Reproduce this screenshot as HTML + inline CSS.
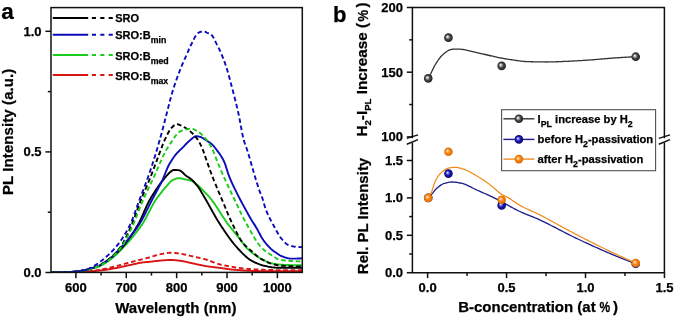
<!DOCTYPE html>
<html><head><meta charset="utf-8"><style>
html,body{margin:0;padding:0;background:#fff;}
body{width:675px;height:318px;overflow:hidden;}
svg{display:block;filter:blur(0.3px);}
</style></head><body>
<svg width="675" height="318" viewBox="0 0 675 318">
<rect width="675" height="318" fill="#fff"/>
<defs><clipPath id="ca"><rect x="51.0" y="7.6" width="251.3" height="264.79999999999995"/></clipPath><radialGradient id="gg" cx="0.5" cy="0.5" r="0.55" fx="0.36" fy="0.38"><stop offset="0" stop-color="#ffffff"/><stop offset="0.18" stop-color="#c8c8c8"/><stop offset="0.5" stop-color="#4a4a4a"/><stop offset="1" stop-color="#151515"/></radialGradient><radialGradient id="gb" cx="0.5" cy="0.5" r="0.55" fx="0.36" fy="0.38"><stop offset="0" stop-color="#f0f0ff"/><stop offset="0.18" stop-color="#9090f0"/><stop offset="0.5" stop-color="#1616aa"/><stop offset="1" stop-color="#08086c"/></radialGradient><radialGradient id="go" cx="0.5" cy="0.5" r="0.55" fx="0.36" fy="0.38"><stop offset="0" stop-color="#fff8ec"/><stop offset="0.18" stop-color="#ffc480"/><stop offset="0.5" stop-color="#f5820e"/><stop offset="1" stop-color="#dc6800"/></radialGradient></defs>
<g clip-path="url(#ca)" fill="none" stroke-width="1.9" stroke-linejoin="round">
<path d="M50.72 272.5 L51.35 272.5 L51.98 272.5 L52.61 272.49 L53.24 272.49 L53.87 272.49 L54.5 272.48 L55.13 272.48 L55.76 272.47 L56.4 272.46 L57.03 272.45 L57.66 272.45 L58.29 272.44 L58.92 272.43 L59.55 272.42 L60.18 272.41 L60.81 272.39 L61.45 272.38 L62.08 272.37 L62.71 272.36 L63.34 272.34 L63.97 272.33 L64.6 272.32 L65.23 272.3 L65.86 272.29 L66.5 272.27 L67.13 272.26 L67.76 272.24 L68.39 272.22 L69.02 272.21 L69.65 272.19 L70.28 272.17 L70.91 272.16 L71.54 272.14 L72.18 272.12 L72.81 272.1 L73.44 272.09 L74.07 272.07 L74.7 272.05 L75.33 272.03 L75.96 272.02 L76.59 272 L77.23 271.98 L77.86 271.96 L78.49 271.93 L79.12 271.91 L79.75 271.89 L80.38 271.86 L81.01 271.84 L81.64 271.81 L82.28 271.78 L82.91 271.75 L83.54 271.72 L84.17 271.69 L84.8 271.66 L85.43 271.62 L86.06 271.59 L86.69 271.56 L87.32 271.52 L87.96 271.48 L88.59 271.45 L89.22 271.41 L89.85 271.37 L90.48 271.33 L91.11 271.29 L91.74 271.24 L92.37 271.2 L93.01 271.15 L93.64 271.1 L94.27 271.05 L94.9 270.99 L95.53 270.94 L96.16 270.88 L96.79 270.81 L97.42 270.75 L98.06 270.69 L98.69 270.62 L99.32 270.55 L99.95 270.48 L100.58 270.41 L101.21 270.34 L101.84 270.26 L102.47 270.19 L103.1 270.11 L103.74 270.03 L104.37 269.95 L105 269.87 L105.63 269.78 L106.26 269.69 L106.89 269.6 L107.52 269.51 L108.15 269.41 L108.79 269.31 L109.42 269.21 L110.05 269.1 L110.68 269 L111.31 268.89 L111.94 268.78 L112.57 268.67 L113.2 268.56 L113.84 268.44 L114.47 268.33 L115.1 268.21 L115.73 268.1 L116.36 267.98 L116.99 267.86 L117.62 267.74 L118.25 267.62 L118.88 267.49 L119.52 267.36 L120.15 267.22 L120.78 267.08 L121.41 266.94 L122.04 266.8 L122.67 266.66 L123.3 266.52 L123.93 266.37 L124.57 266.23 L125.2 266.08 L125.83 265.94 L126.46 265.8 L127.09 265.65 L127.72 265.51 L128.35 265.37 L128.98 265.24 L129.62 265.1 L130.25 264.97 L130.88 264.84 L131.51 264.7 L132.14 264.56 L132.77 264.42 L133.4 264.27 L134.03 264.13 L134.66 263.99 L135.3 263.85 L135.93 263.71 L136.56 263.57 L137.19 263.43 L137.82 263.3 L138.45 263.17 L139.08 263.04 L139.71 262.92 L140.35 262.81 L140.98 262.7 L141.61 262.6 L142.24 262.51 L142.87 262.42 L143.5 262.35 L144.13 262.28 L144.76 262.21 L145.4 262.16 L146.03 262.1 L146.66 262.05 L147.29 262 L147.92 261.95 L148.55 261.9 L149.18 261.84 L149.81 261.78 L150.45 261.72 L151.08 261.65 L151.71 261.58 L152.34 261.5 L152.97 261.42 L153.6 261.34 L154.23 261.26 L154.86 261.18 L155.49 261.1 L156.13 261.03 L156.76 260.95 L157.39 260.88 L158.02 260.81 L158.65 260.75 L159.28 260.69 L159.91 260.64 L160.54 260.59 L161.18 260.53 L161.81 260.48 L162.44 260.42 L163.07 260.37 L163.7 260.31 L164.33 260.26 L164.96 260.21 L165.59 260.17 L166.23 260.12 L166.86 260.08 L167.49 260.05 L168.12 260.02 L168.75 259.99 L169.38 259.98 L170.01 259.96 L170.64 259.96 L171.27 259.96 L171.91 259.97 L172.54 260 L173.17 260.03 L173.8 260.08 L174.43 260.13 L175.06 260.18 L175.69 260.25 L176.32 260.31 L176.96 260.39 L177.59 260.46 L178.22 260.54 L178.85 260.62 L179.48 260.71 L180.11 260.79 L180.74 260.87 L181.37 260.96 L182.01 261.05 L182.64 261.15 L183.27 261.26 L183.9 261.38 L184.53 261.51 L185.16 261.64 L185.79 261.78 L186.42 261.92 L187.05 262.07 L187.69 262.22 L188.32 262.37 L188.95 262.52 L189.58 262.67 L190.21 262.82 L190.84 262.97 L191.47 263.11 L192.1 263.25 L192.74 263.38 L193.37 263.52 L194 263.65 L194.63 263.79 L195.26 263.93 L195.89 264.07 L196.52 264.21 L197.15 264.35 L197.79 264.49 L198.42 264.62 L199.05 264.76 L199.68 264.9 L200.31 265.04 L200.94 265.17 L201.57 265.3 L202.2 265.43 L202.83 265.56 L203.47 265.68 L204.1 265.8 L204.73 265.91 L205.36 266.02 L205.99 266.13 L206.62 266.23 L207.25 266.33 L207.88 266.42 L208.52 266.51 L209.15 266.6 L209.78 266.68 L210.41 266.77 L211.04 266.85 L211.67 266.92 L212.3 267 L212.93 267.08 L213.57 267.15 L214.2 267.23 L214.83 267.3 L215.46 267.37 L216.09 267.45 L216.72 267.52 L217.35 267.6 L217.98 267.67 L218.61 267.75 L219.25 267.83 L219.88 267.91 L220.51 267.99 L221.14 268.07 L221.77 268.16 L222.4 268.25 L223.03 268.34 L223.66 268.44 L224.3 268.53 L224.93 268.62 L225.56 268.71 L226.19 268.8 L226.82 268.89 L227.45 268.98 L228.08 269.07 L228.71 269.15 L229.35 269.24 L229.98 269.31 L230.61 269.39 L231.24 269.46 L231.87 269.52 L232.5 269.58 L233.13 269.63 L233.76 269.69 L234.4 269.74 L235.03 269.79 L235.66 269.85 L236.29 269.9 L236.92 269.95 L237.55 270 L238.18 270.05 L238.81 270.1 L239.44 270.15 L240.08 270.2 L240.71 270.25 L241.34 270.3 L241.97 270.35 L242.6 270.39 L243.23 270.44 L243.86 270.48 L244.49 270.52 L245.13 270.56 L245.76 270.6 L246.39 270.64 L247.02 270.68 L247.65 270.72 L248.28 270.75 L248.91 270.78 L249.54 270.82 L250.18 270.85 L250.81 270.87 L251.44 270.9 L252.07 270.93 L252.7 270.95 L253.33 270.97 L253.96 270.99 L254.59 271.01 L255.22 271.02 L255.86 271.03 L256.49 271.04 L257.12 271.05 L257.75 271.06 L258.38 271.06 L259.01 271.07 L259.64 271.08 L260.27 271.08 L260.91 271.09 L261.54 271.1 L262.17 271.1 L262.8 271.11 L263.43 271.11 L264.06 271.12 L264.69 271.13 L265.32 271.13 L265.96 271.14 L266.59 271.14 L267.22 271.15 L267.85 271.15 L268.48 271.16 L269.11 271.16 L269.74 271.17 L270.37 271.17 L271 271.18 L271.64 271.18 L272.27 271.19 L272.9 271.19 L273.53 271.2 L274.16 271.2 L274.79 271.2 L275.42 271.21 L276.05 271.21 L276.69 271.22 L277.32 271.22 L277.95 271.22 L278.58 271.23 L279.21 271.23 L279.84 271.23 L280.47 271.24 L281.1 271.24 L281.74 271.24 L282.37 271.25 L283 271.25 L283.63 271.25 L284.26 271.25 L284.89 271.26 L285.52 271.26 L286.15 271.26 L286.78 271.26 L287.42 271.27 L288.05 271.27 L288.68 271.27 L289.31 271.27 L289.94 271.28 L290.57 271.28 L291.2 271.28 L291.83 271.28 L292.47 271.28 L293.1 271.28 L293.73 271.28 L294.36 271.29 L294.99 271.29 L295.62 271.29 L296.25 271.29 L296.88 271.29 L297.52 271.29 L298.15 271.29 L298.78 271.29 L299.41 271.29 L300.04 271.29 L300.67 271.29 L301.3 271.29 L301.93 271.29 L302.57 271.29" stroke="#d81414"/>
<path d="M50.72 272.5 L51.35 272.5 L51.98 272.5 L52.61 272.5 L53.24 272.49 L53.87 272.49 L54.5 272.49 L55.13 272.48 L55.76 272.47 L56.4 272.47 L57.03 272.46 L57.66 272.45 L58.29 272.44 L58.92 272.44 L59.55 272.43 L60.18 272.42 L60.81 272.4 L61.45 272.39 L62.08 272.38 L62.71 272.37 L63.34 272.36 L63.97 272.34 L64.6 272.33 L65.23 272.31 L65.86 272.3 L66.5 272.28 L67.13 272.27 L67.76 272.25 L68.39 272.23 L69.02 272.22 L69.65 272.2 L70.28 272.18 L70.91 272.17 L71.54 272.15 L72.18 272.13 L72.81 272.11 L73.44 272.09 L74.07 272.07 L74.7 272.05 L75.33 272.04 L75.96 272.02 L76.59 271.99 L77.23 271.97 L77.86 271.95 L78.49 271.92 L79.12 271.89 L79.75 271.86 L80.38 271.83 L81.01 271.8 L81.64 271.76 L82.28 271.72 L82.91 271.69 L83.54 271.65 L84.17 271.6 L84.8 271.56 L85.43 271.51 L86.06 271.47 L86.69 271.42 L87.32 271.37 L87.96 271.32 L88.59 271.27 L89.22 271.21 L89.85 271.16 L90.48 271.1 L91.11 271.04 L91.74 270.98 L92.37 270.91 L93.01 270.84 L93.64 270.76 L94.27 270.67 L94.9 270.59 L95.53 270.49 L96.16 270.4 L96.79 270.29 L97.42 270.19 L98.06 270.08 L98.69 269.97 L99.32 269.86 L99.95 269.75 L100.58 269.63 L101.21 269.51 L101.84 269.4 L102.47 269.28 L103.1 269.16 L103.74 269.04 L104.37 268.92 L105 268.79 L105.63 268.66 L106.26 268.52 L106.89 268.38 L107.52 268.24 L108.15 268.1 L108.79 267.95 L109.42 267.8 L110.05 267.65 L110.68 267.5 L111.31 267.34 L111.94 267.19 L112.57 267.03 L113.2 266.87 L113.84 266.71 L114.47 266.55 L115.1 266.39 L115.73 266.23 L116.36 266.07 L116.99 265.91 L117.62 265.75 L118.25 265.59 L118.88 265.42 L119.52 265.25 L120.15 265.08 L120.78 264.91 L121.41 264.74 L122.04 264.56 L122.67 264.39 L123.3 264.21 L123.93 264.03 L124.57 263.86 L125.2 263.68 L125.83 263.5 L126.46 263.33 L127.09 263.15 L127.72 262.98 L128.35 262.81 L128.98 262.64 L129.62 262.47 L130.25 262.3 L130.88 262.14 L131.51 261.98 L132.14 261.81 L132.77 261.65 L133.4 261.49 L134.03 261.33 L134.66 261.17 L135.3 261.01 L135.93 260.85 L136.56 260.69 L137.19 260.53 L137.82 260.37 L138.45 260.21 L139.08 260.05 L139.71 259.89 L140.35 259.74 L140.98 259.58 L141.61 259.42 L142.24 259.26 L142.87 259.1 L143.5 258.94 L144.13 258.78 L144.76 258.63 L145.4 258.47 L146.03 258.32 L146.66 258.16 L147.29 258.01 L147.92 257.85 L148.55 257.69 L149.18 257.52 L149.81 257.35 L150.45 257.18 L151.08 256.99 L151.71 256.79 L152.34 256.58 L152.97 256.36 L153.6 256.14 L154.23 255.92 L154.86 255.71 L155.49 255.49 L156.13 255.28 L156.76 255.09 L157.39 254.9 L158.02 254.73 L158.65 254.57 L159.28 254.44 L159.91 254.31 L160.54 254.19 L161.18 254.07 L161.81 253.94 L162.44 253.82 L163.07 253.7 L163.7 253.59 L164.33 253.47 L164.96 253.37 L165.59 253.26 L166.23 253.17 L166.86 253.08 L167.49 253 L168.12 252.93 L168.75 252.86 L169.38 252.81 L170.01 252.77 L170.64 252.74 L171.27 252.72 L171.91 252.72 L172.54 252.74 L173.17 252.77 L173.8 252.81 L174.43 252.87 L175.06 252.94 L175.69 253.01 L176.32 253.1 L176.96 253.19 L177.59 253.28 L178.22 253.38 L178.85 253.48 L179.48 253.58 L180.11 253.67 L180.74 253.77 L181.37 253.87 L182.01 253.98 L182.64 254.1 L183.27 254.22 L183.9 254.35 L184.53 254.48 L185.16 254.62 L185.79 254.76 L186.42 254.9 L187.05 255.05 L187.69 255.2 L188.32 255.35 L188.95 255.5 L189.58 255.65 L190.21 255.8 L190.84 255.95 L191.47 256.1 L192.1 256.25 L192.74 256.39 L193.37 256.53 L194 256.67 L194.63 256.82 L195.26 256.96 L195.89 257.1 L196.52 257.24 L197.15 257.38 L197.79 257.52 L198.42 257.66 L199.05 257.8 L199.68 257.95 L200.31 258.1 L200.94 258.24 L201.57 258.4 L202.2 258.55 L202.83 258.71 L203.47 258.87 L204.1 259.03 L204.73 259.2 L205.36 259.37 L205.99 259.54 L206.62 259.72 L207.25 259.91 L207.88 260.11 L208.52 260.32 L209.15 260.55 L209.78 260.78 L210.41 261.02 L211.04 261.26 L211.67 261.51 L212.3 261.76 L212.93 262.01 L213.57 262.27 L214.2 262.51 L214.83 262.76 L215.46 263 L216.09 263.23 L216.72 263.46 L217.35 263.67 L217.98 263.88 L218.61 264.07 L219.25 264.24 L219.88 264.41 L220.51 264.57 L221.14 264.72 L221.77 264.87 L222.4 265.01 L223.03 265.15 L223.66 265.28 L224.3 265.42 L224.93 265.54 L225.56 265.67 L226.19 265.79 L226.82 265.91 L227.45 266.03 L228.08 266.14 L228.71 266.25 L229.35 266.36 L229.98 266.47 L230.61 266.58 L231.24 266.68 L231.87 266.79 L232.5 266.9 L233.13 267.01 L233.76 267.12 L234.4 267.22 L235.03 267.33 L235.66 267.44 L236.29 267.54 L236.92 267.64 L237.55 267.74 L238.18 267.84 L238.81 267.94 L239.44 268.03 L240.08 268.12 L240.71 268.21 L241.34 268.29 L241.97 268.37 L242.6 268.45 L243.23 268.53 L243.86 268.6 L244.49 268.66 L245.13 268.72 L245.76 268.78 L246.39 268.83 L247.02 268.87 L247.65 268.91 L248.28 268.96 L248.91 269 L249.54 269.04 L250.18 269.08 L250.81 269.12 L251.44 269.15 L252.07 269.19 L252.7 269.23 L253.33 269.27 L253.96 269.31 L254.59 269.34 L255.22 269.38 L255.86 269.41 L256.49 269.45 L257.12 269.48 L257.75 269.52 L258.38 269.55 L259.01 269.58 L259.64 269.61 L260.27 269.64 L260.91 269.67 L261.54 269.7 L262.17 269.73 L262.8 269.76 L263.43 269.78 L264.06 269.81 L264.69 269.83 L265.32 269.85 L265.96 269.88 L266.59 269.9 L267.22 269.92 L267.85 269.94 L268.48 269.96 L269.11 269.97 L269.74 269.99 L270.37 270.01 L271 270.02 L271.64 270.03 L272.27 270.04 L272.9 270.05 L273.53 270.06 L274.16 270.07 L274.79 270.08 L275.42 270.08 L276.05 270.08 L276.69 270.09 L277.32 270.09 L277.95 270.09 L278.58 270.09 L279.21 270.09 L279.84 270.09 L280.47 270.09 L281.1 270.09 L281.74 270.09 L282.37 270.09 L283 270.09 L283.63 270.09 L284.26 270.09 L284.89 270.09 L285.52 270.09 L286.15 270.09 L286.78 270.09 L287.42 270.09 L288.05 270.09 L288.68 270.09 L289.31 270.09 L289.94 270.09 L290.57 270.09 L291.2 270.09 L291.83 270.09 L292.47 270.09 L293.1 270.09 L293.73 270.09 L294.36 270.09 L294.99 270.09 L295.62 270.09 L296.25 270.09 L296.88 270.09 L297.52 270.09 L298.15 270.09 L298.78 270.09 L299.41 270.09 L300.04 270.09 L300.67 270.09 L301.3 270.09 L301.93 270.09 L302.57 270.09" stroke="#d81414" stroke-dasharray="4.6 2.8"/>
<path d="M50.72 272.5 L51.35 272.5 L51.98 272.5 L52.61 272.5 L53.24 272.49 L53.87 272.49 L54.5 272.48 L55.13 272.48 L55.76 272.47 L56.4 272.47 L57.03 272.46 L57.66 272.45 L58.29 272.44 L58.92 272.43 L59.55 272.42 L60.18 272.41 L60.81 272.39 L61.45 272.38 L62.08 272.37 L62.71 272.35 L63.34 272.34 L63.97 272.32 L64.6 272.3 L65.23 272.29 L65.86 272.27 L66.5 272.25 L67.13 272.23 L67.76 272.21 L68.39 272.19 L69.02 272.17 L69.65 272.15 L70.28 272.13 L70.91 272.11 L71.54 272.09 L72.18 272.06 L72.81 272.04 L73.44 272.02 L74.07 271.99 L74.7 271.95 L75.33 271.91 L75.96 271.86 L76.59 271.8 L77.23 271.74 L77.86 271.67 L78.49 271.59 L79.12 271.51 L79.75 271.42 L80.38 271.33 L81.01 271.23 L81.64 271.12 L82.28 271.01 L82.91 270.89 L83.54 270.77 L84.17 270.64 L84.8 270.51 L85.43 270.38 L86.06 270.24 L86.69 270.09 L87.32 269.94 L87.96 269.79 L88.59 269.63 L89.22 269.47 L89.85 269.3 L90.48 269.13 L91.11 268.96 L91.74 268.78 L92.37 268.6 L93.01 268.42 L93.64 268.24 L94.27 268.05 L94.9 267.86 L95.53 267.67 L96.16 267.47 L96.79 267.28 L97.42 267.07 L98.06 266.85 L98.69 266.61 L99.32 266.34 L99.95 266.05 L100.58 265.75 L101.21 265.43 L101.84 265.09 L102.47 264.74 L103.1 264.38 L103.74 264 L104.37 263.61 L105 263.22 L105.63 262.81 L106.26 262.4 L106.89 261.98 L107.52 261.55 L108.15 261.12 L108.79 260.69 L109.42 260.25 L110.05 259.8 L110.68 259.33 L111.31 258.84 L111.94 258.33 L112.57 257.81 L113.2 257.28 L113.84 256.73 L114.47 256.17 L115.1 255.59 L115.73 255.01 L116.36 254.41 L116.99 253.81 L117.62 253.2 L118.25 252.58 L118.88 251.95 L119.52 251.32 L120.15 250.69 L120.78 250.05 L121.41 249.41 L122.04 248.76 L122.67 248.11 L123.3 247.45 L123.93 246.79 L124.57 246.13 L125.2 245.45 L125.83 244.77 L126.46 244.09 L127.09 243.39 L127.72 242.7 L128.35 241.99 L128.98 241.28 L129.62 240.55 L130.25 239.82 L130.88 239.09 L131.51 238.34 L132.14 237.59 L132.77 236.83 L133.4 236.05 L134.03 235.27 L134.66 234.48 L135.3 233.68 L135.93 232.87 L136.56 232.05 L137.19 231.22 L137.82 230.38 L138.45 229.53 L139.08 228.67 L139.71 227.8 L140.35 226.91 L140.98 226.01 L141.61 225.1 L142.24 224.18 L142.87 223.22 L143.5 222.22 L144.13 221.16 L144.76 220.07 L145.4 218.93 L146.03 217.77 L146.66 216.59 L147.29 215.38 L147.92 214.16 L148.55 212.93 L149.18 211.7 L149.81 210.47 L150.45 209.24 L151.08 208.02 L151.71 206.83 L152.34 205.65 L152.97 204.5 L153.6 203.38 L154.23 202.3 L154.86 201.27 L155.49 200.28 L156.13 199.34 L156.76 198.43 L157.39 197.56 L158.02 196.71 L158.65 195.88 L159.28 195.06 L159.91 194.25 L160.54 193.43 L161.18 192.62 L161.81 191.81 L162.44 191.01 L163.07 190.22 L163.7 189.44 L164.33 188.68 L164.96 187.93 L165.59 187.2 L166.23 186.49 L166.86 185.78 L167.49 185.05 L168.12 184.3 L168.75 183.57 L169.38 182.85 L170.01 182.17 L170.64 181.55 L171.27 180.99 L171.91 180.52 L172.54 180.16 L173.17 179.86 L173.8 179.57 L174.43 179.3 L175.06 179.04 L175.69 178.81 L176.32 178.61 L176.96 178.44 L177.59 178.31 L178.22 178.22 L178.85 178.19 L179.48 178.21 L180.11 178.27 L180.74 178.36 L181.37 178.48 L182.01 178.62 L182.64 178.77 L183.27 178.93 L183.9 179.09 L184.53 179.25 L185.16 179.39 L185.79 179.52 L186.42 179.64 L187.05 179.76 L187.69 179.89 L188.32 180.02 L188.95 180.16 L189.58 180.31 L190.21 180.47 L190.84 180.66 L191.47 180.87 L192.1 181.13 L192.74 181.46 L193.37 181.83 L194 182.25 L194.63 182.71 L195.26 183.2 L195.89 183.7 L196.52 184.22 L197.15 184.74 L197.79 185.26 L198.42 185.8 L199.05 186.37 L199.68 186.98 L200.31 187.61 L200.94 188.25 L201.57 188.91 L202.2 189.58 L202.83 190.25 L203.47 190.91 L204.1 191.57 L204.73 192.21 L205.36 192.86 L205.99 193.51 L206.62 194.16 L207.25 194.82 L207.88 195.49 L208.52 196.17 L209.15 196.88 L209.78 197.6 L210.41 198.36 L211.04 199.14 L211.67 199.95 L212.3 200.78 L212.93 201.63 L213.57 202.5 L214.2 203.39 L214.83 204.3 L215.46 205.23 L216.09 206.17 L216.72 207.11 L217.35 208.07 L217.98 209.04 L218.61 210.02 L219.25 210.99 L219.88 211.98 L220.51 212.96 L221.14 213.94 L221.77 214.92 L222.4 215.9 L223.03 216.87 L223.66 217.83 L224.3 218.78 L224.93 219.73 L225.56 220.66 L226.19 221.57 L226.82 222.47 L227.45 223.35 L228.08 224.21 L228.71 225.06 L229.35 225.89 L229.98 226.71 L230.61 227.52 L231.24 228.33 L231.87 229.13 L232.5 229.92 L233.13 230.7 L233.76 231.49 L234.4 232.27 L235.03 233.04 L235.66 233.82 L236.29 234.6 L236.92 235.38 L237.55 236.16 L238.18 236.95 L238.81 237.74 L239.44 238.53 L240.08 239.34 L240.71 240.17 L241.34 241.02 L241.97 241.88 L242.6 242.75 L243.23 243.6 L243.86 244.45 L244.49 245.28 L245.13 246.08 L245.76 246.84 L246.39 247.56 L247.02 248.24 L247.65 248.87 L248.28 249.47 L248.91 250.05 L249.54 250.61 L250.18 251.15 L250.81 251.68 L251.44 252.19 L252.07 252.68 L252.7 253.17 L253.33 253.64 L253.96 254.11 L254.59 254.56 L255.22 255.02 L255.86 255.47 L256.49 255.91 L257.12 256.35 L257.75 256.78 L258.38 257.19 L259.01 257.6 L259.64 258 L260.27 258.38 L260.91 258.74 L261.54 259.09 L262.17 259.42 L262.8 259.74 L263.43 260.06 L264.06 260.38 L264.69 260.7 L265.32 261.01 L265.96 261.31 L266.59 261.6 L267.22 261.88 L267.85 262.15 L268.48 262.4 L269.11 262.63 L269.74 262.85 L270.37 263.04 L271 263.2 L271.64 263.34 L272.27 263.47 L272.9 263.59 L273.53 263.71 L274.16 263.83 L274.79 263.94 L275.42 264.04 L276.05 264.14 L276.69 264.23 L277.32 264.32 L277.95 264.4 L278.58 264.48 L279.21 264.54 L279.84 264.61 L280.47 264.66 L281.1 264.71 L281.74 264.75 L282.37 264.78 L283 264.81 L283.63 264.83 L284.26 264.86 L284.89 264.88 L285.52 264.91 L286.15 264.93 L286.78 264.96 L287.42 264.98 L288.05 265 L288.68 265.02 L289.31 265.04 L289.94 265.06 L290.57 265.08 L291.2 265.1 L291.83 265.12 L292.47 265.13 L293.1 265.15 L293.73 265.16 L294.36 265.18 L294.99 265.19 L295.62 265.2 L296.25 265.21 L296.88 265.22 L297.52 265.23 L298.15 265.24 L298.78 265.24 L299.41 265.25 L300.04 265.26 L300.67 265.26 L301.3 265.26 L301.93 265.26 L302.57 265.26" stroke="#1ccc1c"/>
<path d="M50.72 272.5 L51.35 272.5 L51.98 272.5 L52.61 272.49 L53.24 272.49 L53.87 272.48 L54.5 272.48 L55.13 272.47 L55.76 272.46 L56.4 272.45 L57.03 272.43 L57.66 272.42 L58.29 272.41 L58.92 272.39 L59.55 272.37 L60.18 272.35 L60.81 272.34 L61.45 272.32 L62.08 272.29 L62.71 272.27 L63.34 272.25 L63.97 272.23 L64.6 272.2 L65.23 272.18 L65.86 272.15 L66.5 272.12 L67.13 272.09 L67.76 272.06 L68.39 272.03 L69.02 272 L69.65 271.97 L70.28 271.94 L70.91 271.91 L71.54 271.88 L72.18 271.84 L72.81 271.81 L73.44 271.77 L74.07 271.73 L74.7 271.69 L75.33 271.63 L75.96 271.57 L76.59 271.51 L77.23 271.43 L77.86 271.35 L78.49 271.26 L79.12 271.17 L79.75 271.07 L80.38 270.97 L81.01 270.85 L81.64 270.74 L82.28 270.62 L82.91 270.49 L83.54 270.35 L84.17 270.22 L84.8 270.07 L85.43 269.92 L86.06 269.77 L86.69 269.61 L87.32 269.45 L87.96 269.28 L88.59 269.11 L89.22 268.94 L89.85 268.76 L90.48 268.57 L91.11 268.39 L91.74 268.2 L92.37 268 L93.01 267.81 L93.64 267.6 L94.27 267.4 L94.9 267.2 L95.53 266.99 L96.16 266.77 L96.79 266.56 L97.42 266.34 L98.06 266.1 L98.69 265.83 L99.32 265.54 L99.95 265.23 L100.58 264.9 L101.21 264.55 L101.84 264.19 L102.47 263.81 L103.1 263.42 L103.74 263.01 L104.37 262.59 L105 262.17 L105.63 261.73 L106.26 261.29 L106.89 260.85 L107.52 260.4 L108.15 259.95 L108.79 259.49 L109.42 259.04 L110.05 258.57 L110.68 258.1 L111.31 257.61 L111.94 257.11 L112.57 256.6 L113.2 256.08 L113.84 255.55 L114.47 255 L115.1 254.44 L115.73 253.88 L116.36 253.29 L116.99 252.7 L117.62 252.09 L118.25 251.47 L118.88 250.84 L119.52 250.2 L120.15 249.54 L120.78 248.87 L121.41 248.19 L122.04 247.49 L122.67 246.77 L123.3 246.04 L123.93 245.29 L124.57 244.52 L125.2 243.74 L125.83 242.94 L126.46 242.13 L127.09 241.3 L127.72 240.45 L128.35 239.59 L128.98 238.71 L129.62 237.82 L130.25 236.91 L130.88 235.99 L131.51 235.06 L132.14 234.11 L132.77 233.14 L133.4 232.16 L134.03 231.17 L134.66 230.16 L135.3 229.14 L135.93 228.11 L136.56 227.06 L137.19 226 L137.82 224.92 L138.45 223.83 L139.08 222.68 L139.71 221.45 L140.35 220.16 L140.98 218.83 L141.61 217.45 L142.24 216.03 L142.87 214.6 L143.5 213.14 L144.13 211.69 L144.76 210.23 L145.4 208.79 L146.03 207.36 L146.66 205.97 L147.29 204.61 L147.92 203.3 L148.55 202.05 L149.18 200.87 L149.81 199.75 L150.45 198.67 L151.08 197.6 L151.71 196.54 L152.34 195.5 L152.97 194.47 L153.6 193.46 L154.23 192.47 L154.86 191.49 L155.49 190.52 L156.13 189.57 L156.76 188.64 L157.39 187.71 L158.02 186.81 L158.65 185.91 L159.28 185.03 L159.91 184.17 L160.54 183.32 L161.18 182.48 L161.81 181.66 L162.44 180.85 L163.07 180.06 L163.7 179.28 L164.33 178.51 L164.96 177.76 L165.59 177.01 L166.23 176.25 L166.86 175.5 L167.49 174.76 L168.12 174.05 L168.75 173.37 L169.38 172.74 L170.01 172.16 L170.64 171.65 L171.27 171.21 L171.91 170.8 L172.54 170.41 L173.17 170.11 L173.8 169.99 L174.43 169.99 L175.06 170 L175.69 170.02 L176.32 170.05 L176.96 170.08 L177.59 170.12 L178.22 170.17 L178.85 170.23 L179.48 170.36 L180.11 170.65 L180.74 171.04 L181.37 171.48 L182.01 171.94 L182.64 172.46 L183.27 173.09 L183.9 173.77 L184.53 174.43 L185.16 175.02 L185.79 175.52 L186.42 175.98 L187.05 176.41 L187.69 176.82 L188.32 177.21 L188.95 177.61 L189.58 178.03 L190.21 178.47 L190.84 178.94 L191.47 179.46 L192.1 180.03 L192.74 180.63 L193.37 181.26 L194 181.93 L194.63 182.63 L195.26 183.36 L195.89 184.11 L196.52 184.89 L197.15 185.69 L197.79 186.51 L198.42 187.38 L199.05 188.31 L199.68 189.29 L200.31 190.3 L200.94 191.35 L201.57 192.42 L202.2 193.49 L202.83 194.57 L203.47 195.64 L204.1 196.7 L204.73 197.76 L205.36 198.83 L205.99 199.92 L206.62 201.02 L207.25 202.13 L207.88 203.25 L208.52 204.38 L209.15 205.51 L209.78 206.65 L210.41 207.79 L211.04 208.93 L211.67 210.07 L212.3 211.21 L212.93 212.34 L213.57 213.47 L214.2 214.59 L214.83 215.7 L215.46 216.8 L216.09 217.89 L216.72 218.96 L217.35 220.02 L217.98 221.06 L218.61 222.08 L219.25 223.08 L219.88 224.06 L220.51 225.02 L221.14 225.98 L221.77 226.94 L222.4 227.89 L223.03 228.84 L223.66 229.78 L224.3 230.71 L224.93 231.65 L225.56 232.57 L226.19 233.49 L226.82 234.4 L227.45 235.3 L228.08 236.19 L228.71 237.07 L229.35 237.94 L229.98 238.81 L230.61 239.66 L231.24 240.5 L231.87 241.32 L232.5 242.14 L233.13 242.94 L233.76 243.73 L234.4 244.5 L235.03 245.26 L235.66 246 L236.29 246.72 L236.92 247.43 L237.55 248.12 L238.18 248.8 L238.81 249.48 L239.44 250.15 L240.08 250.82 L240.71 251.48 L241.34 252.14 L241.97 252.79 L242.6 253.43 L243.23 254.06 L243.86 254.68 L244.49 255.28 L245.13 255.87 L245.76 256.44 L246.39 257 L247.02 257.54 L247.65 258.05 L248.28 258.55 L248.91 259.02 L249.54 259.47 L250.18 259.89 L250.81 260.29 L251.44 260.65 L252.07 261 L252.7 261.34 L253.33 261.67 L253.96 261.99 L254.59 262.3 L255.22 262.6 L255.86 262.9 L256.49 263.18 L257.12 263.46 L257.75 263.72 L258.38 263.97 L259.01 264.22 L259.64 264.45 L260.27 264.67 L260.91 264.88 L261.54 265.08 L262.17 265.26 L262.8 265.44 L263.43 265.6 L264.06 265.74 L264.69 265.88 L265.32 266.02 L265.96 266.16 L266.59 266.3 L267.22 266.44 L267.85 266.57 L268.48 266.7 L269.11 266.82 L269.74 266.94 L270.37 267.06 L271 267.16 L271.64 267.26 L272.27 267.35 L272.9 267.43 L273.53 267.5 L274.16 267.56 L274.79 267.61 L275.42 267.65 L276.05 267.67 L276.69 267.68 L277.32 267.68 L277.95 267.68 L278.58 267.68 L279.21 267.68 L279.84 267.68 L280.47 267.68 L281.1 267.68 L281.74 267.68 L282.37 267.68 L283 267.68 L283.63 267.68 L284.26 267.68 L284.89 267.68 L285.52 267.68 L286.15 267.68 L286.78 267.68 L287.42 267.68 L288.05 267.68 L288.68 267.68 L289.31 267.68 L289.94 267.68 L290.57 267.68 L291.2 267.68 L291.83 267.68 L292.47 267.68 L293.1 267.68 L293.73 267.68 L294.36 267.68 L294.99 267.68 L295.62 267.68 L296.25 267.68 L296.88 267.68 L297.52 267.68 L298.15 267.68 L298.78 267.68 L299.41 267.68 L300.04 267.68 L300.67 267.68 L301.3 267.68 L301.93 267.68 L302.57 267.68" stroke="#000"/>
<path d="M50.72 272.5 L51.35 272.5 L51.98 272.5 L52.61 272.49 L53.24 272.49 L53.87 272.48 L54.5 272.48 L55.13 272.47 L55.76 272.46 L56.4 272.45 L57.03 272.43 L57.66 272.42 L58.29 272.41 L58.92 272.39 L59.55 272.37 L60.18 272.35 L60.81 272.34 L61.45 272.32 L62.08 272.29 L62.71 272.27 L63.34 272.25 L63.97 272.23 L64.6 272.2 L65.23 272.18 L65.86 272.15 L66.5 272.12 L67.13 272.09 L67.76 272.06 L68.39 272.03 L69.02 272 L69.65 271.97 L70.28 271.94 L70.91 271.91 L71.54 271.88 L72.18 271.84 L72.81 271.81 L73.44 271.77 L74.07 271.73 L74.7 271.69 L75.33 271.63 L75.96 271.57 L76.59 271.51 L77.23 271.43 L77.86 271.35 L78.49 271.26 L79.12 271.17 L79.75 271.07 L80.38 270.97 L81.01 270.85 L81.64 270.74 L82.28 270.62 L82.91 270.49 L83.54 270.35 L84.17 270.22 L84.8 270.07 L85.43 269.92 L86.06 269.77 L86.69 269.61 L87.32 269.45 L87.96 269.28 L88.59 269.11 L89.22 268.94 L89.85 268.76 L90.48 268.57 L91.11 268.39 L91.74 268.2 L92.37 268 L93.01 267.81 L93.64 267.6 L94.27 267.4 L94.9 267.2 L95.53 266.99 L96.16 266.77 L96.79 266.56 L97.42 266.34 L98.06 266.1 L98.69 265.83 L99.32 265.55 L99.95 265.24 L100.58 264.92 L101.21 264.58 L101.84 264.22 L102.47 263.85 L103.1 263.46 L103.74 263.06 L104.37 262.65 L105 262.22 L105.63 261.79 L106.26 261.34 L106.89 260.89 L107.52 260.43 L108.15 259.97 L108.79 259.5 L109.42 259.03 L110.05 258.53 L110.68 258.01 L111.31 257.47 L111.94 256.91 L112.57 256.33 L113.2 255.73 L113.84 255.11 L114.47 254.48 L115.1 253.84 L115.73 253.19 L116.36 252.52 L116.99 251.84 L117.62 251.16 L118.25 250.47 L118.88 249.78 L119.52 249.08 L120.15 248.38 L120.78 247.68 L121.41 246.98 L122.04 246.28 L122.67 245.57 L123.3 244.87 L123.93 244.16 L124.57 243.44 L125.2 242.72 L125.83 242 L126.46 241.27 L127.09 240.53 L127.72 239.79 L128.35 239.04 L128.98 238.28 L129.62 237.51 L130.25 236.74 L130.88 235.95 L131.51 235.16 L132.14 234.35 L132.77 233.53 L133.4 232.7 L134.03 231.86 L134.66 231.01 L135.3 230.14 L135.93 229.26 L136.56 228.36 L137.19 227.45 L137.82 226.52 L138.45 225.58 L139.08 224.62 L139.71 223.63 L140.35 222.61 L140.98 221.54 L141.61 220.44 L142.24 219.3 L142.87 218.13 L143.5 216.93 L144.13 215.71 L144.76 214.47 L145.4 213.21 L146.03 211.94 L146.66 210.66 L147.29 209.38 L147.92 208.09 L148.55 206.81 L149.18 205.52 L149.81 204.25 L150.45 202.99 L151.08 201.75 L151.71 200.52 L152.34 199.32 L152.97 198.13 L153.6 196.96 L154.23 195.79 L154.86 194.63 L155.49 193.47 L156.13 192.32 L156.76 191.16 L157.39 189.99 L158.02 188.81 L158.65 187.63 L159.28 186.43 L159.91 185.21 L160.54 183.97 L161.18 182.7 L161.81 181.41 L162.44 180.09 L163.07 178.71 L163.7 177.23 L164.33 175.69 L164.96 174.11 L165.59 172.51 L166.23 170.93 L166.86 169.38 L167.49 167.9 L168.12 166.5 L168.75 165.23 L169.38 164.06 L170.01 162.96 L170.64 161.91 L171.27 160.91 L171.91 159.94 L172.54 159 L173.17 158.08 L173.8 157.18 L174.43 156.31 L175.06 155.46 L175.69 154.66 L176.32 153.9 L176.96 153.19 L177.59 152.51 L178.22 151.86 L178.85 151.24 L179.48 150.63 L180.11 150.03 L180.74 149.43 L181.37 148.84 L182.01 148.23 L182.64 147.61 L183.27 146.96 L183.9 146.3 L184.53 145.62 L185.16 144.94 L185.79 144.27 L186.42 143.6 L187.05 142.96 L187.69 142.34 L188.32 141.77 L188.95 141.23 L189.58 140.69 L190.21 140.13 L190.84 139.56 L191.47 138.99 L192.1 138.43 L192.74 137.91 L193.37 137.43 L194 137.01 L194.63 136.67 L195.26 136.41 L195.89 136.26 L196.52 136.22 L197.15 136.26 L197.79 136.35 L198.42 136.48 L199.05 136.63 L199.68 136.8 L200.31 136.97 L200.94 137.18 L201.57 137.44 L202.2 137.74 L202.83 138.08 L203.47 138.46 L204.1 138.85 L204.73 139.27 L205.36 139.7 L205.99 140.13 L206.62 140.56 L207.25 140.98 L207.88 141.39 L208.52 141.8 L209.15 142.2 L209.78 142.63 L210.41 143.07 L211.04 143.56 L211.67 144.09 L212.3 144.68 L212.93 145.33 L213.57 146.01 L214.2 146.74 L214.83 147.51 L215.46 148.31 L216.09 149.13 L216.72 149.96 L217.35 150.82 L217.98 151.68 L218.61 152.54 L219.25 153.42 L219.88 154.32 L220.51 155.25 L221.14 156.21 L221.77 157.23 L222.4 158.31 L223.03 159.45 L223.66 160.68 L224.3 162 L224.93 163.58 L225.56 165.39 L226.19 167.35 L226.82 169.4 L227.45 171.44 L228.08 173.4 L228.71 175.21 L229.35 176.82 L229.98 178.35 L230.61 179.85 L231.24 181.3 L231.87 182.72 L232.5 184.11 L233.13 185.47 L233.76 186.8 L234.4 188.11 L235.03 189.4 L235.66 190.67 L236.29 191.92 L236.92 193.17 L237.55 194.4 L238.18 195.63 L238.81 196.85 L239.44 198.07 L240.08 199.3 L240.71 200.52 L241.34 201.74 L241.97 202.92 L242.6 204.1 L243.23 205.25 L243.86 206.4 L244.49 207.55 L245.13 208.69 L245.76 209.84 L246.39 210.99 L247.02 212.14 L247.65 213.29 L248.28 214.43 L248.91 215.56 L249.54 216.68 L250.18 217.77 L250.81 218.85 L251.44 219.89 L252.07 220.91 L252.7 221.91 L253.33 222.9 L253.96 223.88 L254.59 224.87 L255.22 225.87 L255.86 226.89 L256.49 227.94 L257.12 229.02 L257.75 230.16 L258.38 231.35 L259.01 232.58 L259.64 233.8 L260.27 235.01 L260.91 236.19 L261.54 237.3 L262.17 238.33 L262.8 239.29 L263.43 240.21 L264.06 241.08 L264.69 241.93 L265.32 242.74 L265.96 243.52 L266.59 244.27 L267.22 244.99 L267.85 245.7 L268.48 246.38 L269.11 247.04 L269.74 247.67 L270.37 248.28 L271 248.86 L271.64 249.42 L272.27 249.95 L272.9 250.46 L273.53 250.95 L274.16 251.43 L274.79 251.89 L275.42 252.34 L276.05 252.78 L276.69 253.21 L277.32 253.64 L277.95 254.07 L278.58 254.48 L279.21 254.88 L279.84 255.25 L280.47 255.6 L281.1 255.9 L281.74 256.19 L282.37 256.46 L283 256.72 L283.63 256.96 L284.26 257.18 L284.89 257.39 L285.52 257.58 L286.15 257.75 L286.78 257.94 L287.42 258.12 L288.05 258.29 L288.68 258.43 L289.31 258.53 L289.94 258.6 L290.57 258.61 L291.2 258.61 L291.83 258.61 L292.47 258.61 L293.1 258.61 L293.73 258.61 L294.36 258.61 L294.99 258.61 L295.62 258.6 L296.25 258.59 L296.88 258.58 L297.52 258.56 L298.15 258.54 L298.78 258.51 L299.41 258.47 L300.04 258.44 L300.67 258.4 L301.3 258.36 L301.93 258.31 L302.57 258.27" stroke="#0c0cbc"/>
<path d="M50.72 272.5 L51.35 272.5 L51.98 272.5 L52.61 272.49 L53.24 272.49 L53.87 272.48 L54.5 272.48 L55.13 272.47 L55.76 272.46 L56.4 272.45 L57.03 272.43 L57.66 272.42 L58.29 272.41 L58.92 272.39 L59.55 272.37 L60.18 272.35 L60.81 272.34 L61.45 272.32 L62.08 272.29 L62.71 272.27 L63.34 272.25 L63.97 272.23 L64.6 272.2 L65.23 272.18 L65.86 272.15 L66.5 272.12 L67.13 272.09 L67.76 272.06 L68.39 272.03 L69.02 272 L69.65 271.97 L70.28 271.94 L70.91 271.91 L71.54 271.88 L72.18 271.84 L72.81 271.81 L73.44 271.77 L74.07 271.73 L74.7 271.69 L75.33 271.63 L75.96 271.57 L76.59 271.51 L77.23 271.43 L77.86 271.35 L78.49 271.27 L79.12 271.17 L79.75 271.08 L80.38 270.97 L81.01 270.86 L81.64 270.74 L82.28 270.62 L82.91 270.5 L83.54 270.36 L84.17 270.22 L84.8 270.08 L85.43 269.93 L86.06 269.78 L86.69 269.62 L87.32 269.46 L87.96 269.29 L88.59 269.12 L89.22 268.95 L89.85 268.77 L90.48 268.59 L91.11 268.4 L91.74 268.21 L92.37 268.01 L93.01 267.82 L93.64 267.61 L94.27 267.41 L94.9 267.2 L95.53 266.99 L96.16 266.78 L96.79 266.56 L97.42 266.34 L98.06 266.09 L98.69 265.82 L99.32 265.53 L99.95 265.22 L100.58 264.89 L101.21 264.54 L101.84 264.18 L102.47 263.79 L103.1 263.39 L103.74 262.98 L104.37 262.55 L105 262.11 L105.63 261.66 L106.26 261.2 L106.89 260.73 L107.52 260.25 L108.15 259.76 L108.79 259.27 L109.42 258.78 L110.05 258.27 L110.68 257.74 L111.31 257.19 L111.94 256.63 L112.57 256.05 L113.2 255.45 L113.84 254.84 L114.47 254.2 L115.1 253.54 L115.73 252.86 L116.36 252.16 L116.99 251.44 L117.62 250.69 L118.25 249.92 L118.88 249.13 L119.52 248.32 L120.15 247.47 L120.78 246.61 L121.41 245.71 L122.04 244.76 L122.67 243.74 L123.3 242.65 L123.93 241.51 L124.57 240.31 L125.2 239.06 L125.83 237.77 L126.46 236.44 L127.09 235.08 L127.72 233.68 L128.35 232.26 L128.98 230.82 L129.62 229.37 L130.25 227.9 L130.88 226.43 L131.51 224.96 L132.14 223.48 L132.77 221.95 L133.4 220.36 L134.03 218.71 L134.66 217.03 L135.3 215.32 L135.93 213.58 L136.56 211.83 L137.19 210.07 L137.82 208.31 L138.45 206.57 L139.08 204.85 L139.71 203.16 L140.35 201.5 L140.98 199.89 L141.61 198.32 L142.24 196.77 L142.87 195.24 L143.5 193.74 L144.13 192.24 L144.76 190.76 L145.4 189.29 L146.03 187.82 L146.66 186.35 L147.29 184.87 L147.92 183.39 L148.55 181.89 L149.18 180.38 L149.81 178.84 L150.45 177.29 L151.08 175.7 L151.71 174.09 L152.34 172.46 L152.97 170.8 L153.6 169.12 L154.23 167.43 L154.86 165.73 L155.49 164.02 L156.13 162.31 L156.76 160.6 L157.39 158.89 L158.02 157.19 L158.65 155.5 L159.28 153.83 L159.91 152.17 L160.54 150.51 L161.18 148.82 L161.81 147.12 L162.44 145.44 L163.07 143.8 L163.7 142.25 L164.33 140.8 L164.96 139.45 L165.59 138.1 L166.23 136.77 L166.86 135.47 L167.49 134.2 L168.12 132.98 L168.75 131.83 L169.38 130.75 L170.01 129.77 L170.64 128.89 L171.27 128.13 L171.91 127.47 L172.54 126.83 L173.17 126.21 L173.8 125.62 L174.43 125.1 L175.06 124.67 L175.69 124.35 L176.32 124.18 L176.96 124.17 L177.59 124.25 L178.22 124.4 L178.85 124.6 L179.48 124.85 L180.11 125.13 L180.74 125.43 L181.37 125.75 L182.01 126.06 L182.64 126.36 L183.27 126.66 L183.9 127 L184.53 127.35 L185.16 127.73 L185.79 128.13 L186.42 128.54 L187.05 128.98 L187.69 129.42 L188.32 129.89 L188.95 130.36 L189.58 130.84 L190.21 131.35 L190.84 131.87 L191.47 132.42 L192.1 132.99 L192.74 133.59 L193.37 134.23 L194 134.89 L194.63 135.59 L195.26 136.32 L195.89 137.11 L196.52 137.95 L197.15 138.85 L197.79 139.8 L198.42 140.81 L199.05 141.87 L199.68 142.99 L200.31 144.16 L200.94 145.38 L201.57 146.67 L202.2 148.1 L202.83 149.68 L203.47 151.39 L204.1 153.19 L204.73 155.05 L205.36 156.94 L205.99 158.81 L206.62 160.65 L207.25 162.41 L207.88 164.17 L208.52 165.93 L209.15 167.7 L209.78 169.46 L210.41 171.21 L211.04 172.94 L211.67 174.63 L212.3 176.28 L212.93 177.9 L213.57 179.5 L214.2 181.08 L214.83 182.65 L215.46 184.19 L216.09 185.73 L216.72 187.25 L217.35 188.76 L217.98 190.26 L218.61 191.75 L219.25 193.24 L219.88 194.73 L220.51 196.21 L221.14 197.7 L221.77 199.19 L222.4 200.68 L223.03 202.18 L223.66 203.69 L224.3 205.21 L224.93 206.73 L225.56 208.24 L226.19 209.76 L226.82 211.27 L227.45 212.76 L228.08 214.25 L228.71 215.72 L229.35 217.17 L229.98 218.6 L230.61 220.01 L231.24 221.39 L231.87 222.74 L232.5 224.06 L233.13 225.35 L233.76 226.66 L234.4 227.97 L235.03 229.27 L235.66 230.57 L236.29 231.85 L236.92 233.11 L237.55 234.35 L238.18 235.55 L238.81 236.71 L239.44 237.84 L240.08 238.91 L240.71 239.92 L241.34 240.87 L241.97 241.76 L242.6 242.57 L243.23 243.33 L243.86 244.05 L244.49 244.72 L245.13 245.37 L245.76 245.98 L246.39 246.57 L247.02 247.15 L247.65 247.71 L248.28 248.26 L248.91 248.8 L249.54 249.35 L250.18 249.91 L250.81 250.48 L251.44 251.06 L252.07 251.64 L252.7 252.23 L253.33 252.82 L253.96 253.4 L254.59 253.97 L255.22 254.53 L255.86 255.08 L256.49 255.61 L257.12 256.12 L257.75 256.6 L258.38 257.06 L259.01 257.49 L259.64 257.9 L260.27 258.3 L260.91 258.69 L261.54 259.06 L262.17 259.43 L262.8 259.78 L263.43 260.12 L264.06 260.45 L264.69 260.77 L265.32 261.09 L265.96 261.41 L266.59 261.73 L267.22 262.05 L267.85 262.36 L268.48 262.66 L269.11 262.94 L269.74 263.2 L270.37 263.44 L271 263.65 L271.64 263.83 L272.27 263.99 L272.9 264.15 L273.53 264.31 L274.16 264.45 L274.79 264.6 L275.42 264.74 L276.05 264.87 L276.69 264.99 L277.32 265.11 L277.95 265.22 L278.58 265.32 L279.21 265.41 L279.84 265.5 L280.47 265.57 L281.1 265.64 L281.74 265.7 L282.37 265.74 L283 265.78 L283.63 265.82 L284.26 265.86 L284.89 265.9 L285.52 265.93 L286.15 265.97 L286.78 266.01 L287.42 266.04 L288.05 266.07 L288.68 266.1 L289.31 266.13 L289.94 266.16 L290.57 266.19 L291.2 266.22 L291.83 266.24 L292.47 266.27 L293.1 266.29 L293.73 266.31 L294.36 266.33 L294.99 266.35 L295.62 266.37 L296.25 266.39 L296.88 266.4 L297.52 266.42 L298.15 266.43 L298.78 266.44 L299.41 266.45 L300.04 266.46 L300.67 266.46 L301.3 266.47 L301.93 266.47 L302.57 266.47" stroke="#000" stroke-dasharray="4.6 2.8"/>
<path d="M50.72 272.5 L51.35 272.5 L51.98 272.5 L52.61 272.49 L53.24 272.49 L53.87 272.48 L54.5 272.48 L55.13 272.47 L55.76 272.46 L56.4 272.45 L57.03 272.43 L57.66 272.42 L58.29 272.4 L58.92 272.39 L59.55 272.37 L60.18 272.35 L60.81 272.33 L61.45 272.31 L62.08 272.29 L62.71 272.27 L63.34 272.25 L63.97 272.22 L64.6 272.2 L65.23 272.17 L65.86 272.15 L66.5 272.12 L67.13 272.09 L67.76 272.06 L68.39 272.03 L69.02 272 L69.65 271.97 L70.28 271.94 L70.91 271.91 L71.54 271.88 L72.18 271.84 L72.81 271.81 L73.44 271.77 L74.07 271.73 L74.7 271.69 L75.33 271.64 L75.96 271.58 L76.59 271.51 L77.23 271.44 L77.86 271.36 L78.49 271.28 L79.12 271.19 L79.75 271.1 L80.38 271 L81.01 270.89 L81.64 270.78 L82.28 270.66 L82.91 270.54 L83.54 270.41 L84.17 270.28 L84.8 270.15 L85.43 270 L86.06 269.86 L86.69 269.71 L87.32 269.55 L87.96 269.4 L88.59 269.23 L89.22 269.07 L89.85 268.9 L90.48 268.72 L91.11 268.54 L91.74 268.36 L92.37 268.18 L93.01 267.99 L93.64 267.8 L94.27 267.6 L94.9 267.41 L95.53 267.21 L96.16 267 L96.79 266.8 L97.42 266.59 L98.06 266.36 L98.69 266.1 L99.32 265.83 L99.95 265.54 L100.58 265.23 L101.21 264.91 L101.84 264.57 L102.47 264.21 L103.1 263.84 L103.74 263.45 L104.37 263.05 L105 262.64 L105.63 262.22 L106.26 261.79 L106.89 261.35 L107.52 260.9 L108.15 260.44 L108.79 259.98 L109.42 259.51 L110.05 259.03 L110.68 258.52 L111.31 258 L111.94 257.45 L112.57 256.89 L113.2 256.31 L113.84 255.7 L114.47 255.08 L115.1 254.44 L115.73 253.78 L116.36 253.1 L116.99 252.4 L117.62 251.68 L118.25 250.94 L118.88 250.18 L119.52 249.4 L120.15 248.6 L120.78 247.78 L121.41 246.93 L122.04 246.05 L122.67 245.11 L123.3 244.12 L123.93 243.08 L124.57 242.01 L125.2 240.89 L125.83 239.73 L126.46 238.55 L127.09 237.33 L127.72 236.08 L128.35 234.81 L128.98 233.52 L129.62 232.2 L130.25 230.87 L130.88 229.53 L131.51 228.18 L132.14 226.82 L132.77 225.45 L133.4 224.08 L134.03 222.68 L134.66 221.21 L135.3 219.68 L135.93 218.12 L136.56 216.52 L137.19 214.89 L137.82 213.24 L138.45 211.58 L139.08 209.93 L139.71 208.27 L140.35 206.64 L140.98 205.03 L141.61 203.45 L142.24 201.91 L142.87 200.42 L143.5 198.98 L144.13 197.57 L144.76 196.18 L145.4 194.81 L146.03 193.45 L146.66 192.12 L147.29 190.8 L147.92 189.48 L148.55 188.18 L149.18 186.88 L149.81 185.58 L150.45 184.28 L151.08 182.98 L151.71 181.67 L152.34 180.36 L152.97 179.03 L153.6 177.69 L154.23 176.33 L154.86 174.95 L155.49 173.54 L156.13 172.1 L156.76 170.64 L157.39 169.17 L158.02 167.68 L158.65 166.2 L159.28 164.71 L159.91 163.23 L160.54 161.77 L161.18 160.32 L161.81 158.9 L162.44 157.51 L163.07 156.15 L163.7 154.84 L164.33 153.57 L164.96 152.35 L165.59 151.19 L166.23 150.07 L166.86 148.98 L167.49 147.93 L168.12 146.91 L168.75 145.93 L169.38 144.98 L170.01 144.05 L170.64 143.14 L171.27 142.19 L171.91 141.23 L172.54 140.25 L173.17 139.28 L173.8 138.32 L174.43 137.38 L175.06 136.46 L175.69 135.59 L176.32 134.77 L176.96 134.01 L177.59 133.31 L178.22 132.7 L178.85 132.17 L179.48 131.74 L180.11 131.42 L180.74 131.17 L181.37 130.93 L182.01 130.69 L182.64 130.47 L183.27 130.25 L183.9 130.04 L184.53 129.85 L185.16 129.67 L185.79 129.5 L186.42 129.35 L187.05 129.21 L187.69 129.09 L188.32 128.99 L188.95 128.9 L189.58 128.83 L190.21 128.78 L190.84 128.75 L191.47 128.75 L192.1 128.8 L192.74 128.92 L193.37 129.12 L194 129.37 L194.63 129.66 L195.26 129.99 L195.89 130.34 L196.52 130.71 L197.15 131.08 L197.79 131.45 L198.42 131.84 L199.05 132.26 L199.68 132.73 L200.31 133.23 L200.94 133.76 L201.57 134.33 L202.2 134.93 L202.83 135.56 L203.47 136.22 L204.1 136.9 L204.73 137.61 L205.36 138.35 L205.99 139.11 L206.62 139.89 L207.25 140.69 L207.88 141.51 L208.52 142.4 L209.15 143.37 L209.78 144.42 L210.41 145.53 L211.04 146.7 L211.67 147.92 L212.3 149.18 L212.93 150.48 L213.57 151.89 L214.2 153.41 L214.83 155.02 L215.46 156.69 L216.09 158.37 L216.72 160.04 L217.35 161.67 L217.98 163.22 L218.61 164.74 L219.25 166.24 L219.88 167.74 L220.51 169.22 L221.14 170.68 L221.77 172.14 L222.4 173.58 L223.03 175.01 L223.66 176.42 L224.3 177.83 L224.93 179.22 L225.56 180.6 L226.19 181.97 L226.82 183.34 L227.45 184.69 L228.08 186.04 L228.71 187.38 L229.35 188.72 L229.98 190.05 L230.61 191.37 L231.24 192.69 L231.87 194.01 L232.5 195.33 L233.13 196.64 L233.76 197.95 L234.4 199.26 L235.03 200.57 L235.66 201.89 L236.29 203.22 L236.92 204.55 L237.55 205.89 L238.18 207.23 L238.81 208.56 L239.44 209.9 L240.08 211.22 L240.71 212.54 L241.34 213.85 L241.97 215.15 L242.6 216.43 L243.23 217.7 L243.86 218.94 L244.49 220.17 L245.13 221.37 L245.76 222.55 L246.39 223.7 L247.02 224.82 L247.65 225.94 L248.28 227.07 L248.91 228.21 L249.54 229.34 L250.18 230.47 L250.81 231.6 L251.44 232.71 L252.07 233.82 L252.7 234.92 L253.33 236.01 L253.96 237.07 L254.59 238.12 L255.22 239.15 L255.86 240.15 L256.49 241.13 L257.12 242.07 L257.75 242.99 L258.38 243.87 L259.01 244.72 L259.64 245.53 L260.27 246.3 L260.91 247.02 L261.54 247.7 L262.17 248.33 L262.8 248.92 L263.43 249.48 L264.06 250.02 L264.69 250.53 L265.32 251.03 L265.96 251.5 L266.59 251.95 L267.22 252.39 L267.85 252.81 L268.48 253.23 L269.11 253.63 L269.74 254.03 L270.37 254.41 L271 254.8 L271.64 255.19 L272.27 255.57 L272.9 255.96 L273.53 256.38 L274.16 256.8 L274.79 257.23 L275.42 257.66 L276.05 258.07 L276.69 258.46 L277.32 258.83 L277.95 259.16 L278.58 259.44 L279.21 259.68 L279.84 259.86 L280.47 259.97 L281.1 260.05 L281.74 260.13 L282.37 260.21 L283 260.28 L283.63 260.35 L284.26 260.42 L284.89 260.49 L285.52 260.56 L286.15 260.62 L286.78 260.68 L287.42 260.74 L288.05 260.79 L288.68 260.84 L289.31 260.89 L289.94 260.94 L290.57 260.99 L291.2 261.03 L291.83 261.07 L292.47 261.11 L293.1 261.15 L293.73 261.18 L294.36 261.21 L294.99 261.24 L295.62 261.27 L296.25 261.29 L296.88 261.31 L297.52 261.33 L298.15 261.35 L298.78 261.36 L299.41 261.38 L300.04 261.39 L300.67 261.39 L301.3 261.4 L301.93 261.4 L302.57 261.4" stroke="#1ccc1c" stroke-dasharray="4.6 2.8"/>
<path d="M50.72 272.5 L51.35 272.5 L51.98 272.5 L52.61 272.49 L53.24 272.49 L53.87 272.49 L54.5 272.48 L55.13 272.47 L55.76 272.47 L56.4 272.46 L57.03 272.45 L57.66 272.44 L58.29 272.42 L58.92 272.41 L59.55 272.4 L60.18 272.38 L60.81 272.37 L61.45 272.35 L62.08 272.33 L62.71 272.32 L63.34 272.3 L63.97 272.28 L64.6 272.26 L65.23 272.24 L65.86 272.21 L66.5 272.19 L67.13 272.17 L67.76 272.14 L68.39 272.12 L69.02 272.09 L69.65 272.07 L70.28 272.04 L70.91 272.02 L71.54 271.98 L72.18 271.94 L72.81 271.9 L73.44 271.85 L74.07 271.79 L74.7 271.72 L75.33 271.65 L75.96 271.57 L76.59 271.48 L77.23 271.39 L77.86 271.29 L78.49 271.19 L79.12 271.08 L79.75 270.97 L80.38 270.85 L81.01 270.72 L81.64 270.6 L82.28 270.46 L82.91 270.33 L83.54 270.19 L84.17 270.04 L84.8 269.89 L85.43 269.74 L86.06 269.58 L86.69 269.41 L87.32 269.21 L87.96 268.99 L88.59 268.74 L89.22 268.47 L89.85 268.18 L90.48 267.88 L91.11 267.56 L91.74 267.22 L92.37 266.87 L93.01 266.51 L93.64 266.14 L94.27 265.77 L94.9 265.38 L95.53 264.99 L96.16 264.6 L96.79 264.2 L97.42 263.81 L98.06 263.4 L98.69 262.98 L99.32 262.54 L99.95 262.08 L100.58 261.61 L101.21 261.12 L101.84 260.62 L102.47 260.11 L103.1 259.59 L103.74 259.05 L104.37 258.51 L105 257.96 L105.63 257.39 L106.26 256.83 L106.89 256.25 L107.52 255.67 L108.15 255.09 L108.79 254.5 L109.42 253.91 L110.05 253.31 L110.68 252.69 L111.31 252.05 L111.94 251.4 L112.57 250.73 L113.2 250.04 L113.84 249.34 L114.47 248.63 L115.1 247.9 L115.73 247.16 L116.36 246.4 L116.99 245.63 L117.62 244.84 L118.25 244.04 L118.88 243.21 L119.52 242.36 L120.15 241.49 L120.78 240.6 L121.41 239.68 L122.04 238.74 L122.67 237.79 L123.3 236.82 L123.93 235.82 L124.57 234.81 L125.2 233.77 L125.83 232.71 L126.46 231.62 L127.09 230.49 L127.72 229.34 L128.35 228.15 L128.98 226.93 L129.62 225.67 L130.25 224.37 L130.88 223.01 L131.51 221.56 L132.14 220.02 L132.77 218.42 L133.4 216.76 L134.03 215.05 L134.66 213.31 L135.3 211.54 L135.93 209.75 L136.56 207.95 L137.19 206.15 L137.82 204.37 L138.45 202.62 L139.08 200.9 L139.71 199.22 L140.35 197.55 L140.98 195.9 L141.61 194.26 L142.24 192.62 L142.87 190.98 L143.5 189.34 L144.13 187.69 L144.76 186.03 L145.4 184.36 L146.03 182.67 L146.66 180.97 L147.29 179.23 L147.92 177.47 L148.55 175.68 L149.18 173.87 L149.81 172.03 L150.45 170.17 L151.08 168.3 L151.71 166.4 L152.34 164.48 L152.97 162.53 L153.6 160.56 L154.23 158.57 L154.86 156.55 L155.49 154.51 L156.13 152.44 L156.76 150.35 L157.39 148.21 L158.02 146.03 L158.65 143.83 L159.28 141.59 L159.91 139.32 L160.54 137.03 L161.18 134.72 L161.81 132.39 L162.44 130.04 L163.07 127.67 L163.7 125.25 L164.33 122.78 L164.96 120.28 L165.59 117.78 L166.23 115.33 L166.86 112.88 L167.49 110.4 L168.12 107.92 L168.75 105.44 L169.38 102.99 L170.01 100.58 L170.64 98.21 L171.27 95.91 L171.91 93.69 L172.54 91.56 L173.17 89.5 L173.8 87.49 L174.43 85.54 L175.06 83.63 L175.69 81.78 L176.32 79.97 L176.96 78.2 L177.59 76.46 L178.22 74.76 L178.85 73.1 L179.48 71.47 L180.11 69.86 L180.74 68.29 L181.37 66.74 L182.01 65.21 L182.64 63.71 L183.27 62.22 L183.9 60.78 L184.53 59.4 L185.16 58.04 L185.79 56.69 L186.42 55.31 L187.05 53.9 L187.69 52.41 L188.32 50.89 L188.95 49.38 L189.58 47.94 L190.21 46.57 L190.84 45.26 L191.47 43.97 L192.1 42.71 L192.74 41.45 L193.37 40.14 L194 38.84 L194.63 37.62 L195.26 36.54 L195.89 35.61 L196.52 34.72 L197.15 33.94 L197.79 33.3 L198.42 32.85 L199.05 32.49 L199.68 32.18 L200.31 31.94 L200.94 31.79 L201.57 31.72 L202.2 31.65 L202.83 31.6 L203.47 31.56 L204.1 31.54 L204.73 31.59 L205.36 31.8 L205.99 32.13 L206.62 32.49 L207.25 32.83 L207.88 33.08 L208.52 33.27 L209.15 33.44 L209.78 33.64 L210.41 33.91 L211.04 34.35 L211.67 35.01 L212.3 35.84 L212.93 36.77 L213.57 37.74 L214.2 38.9 L214.83 40.22 L215.46 41.58 L216.09 42.9 L216.72 44.14 L217.35 45.37 L217.98 46.61 L218.61 47.87 L219.25 49.18 L219.88 50.51 L220.51 51.88 L221.14 53.31 L221.77 54.81 L222.4 56.35 L223.03 57.93 L223.66 59.56 L224.3 61.25 L224.93 63 L225.56 64.83 L226.19 66.74 L226.82 68.74 L227.45 70.84 L228.08 73.02 L228.71 75.26 L229.35 77.56 L229.98 79.9 L230.61 82.26 L231.24 84.64 L231.87 87.02 L232.5 89.4 L233.13 91.8 L233.76 94.22 L234.4 96.67 L235.03 99.15 L235.66 101.68 L236.29 104.25 L236.92 106.88 L237.55 109.57 L238.18 112.33 L238.81 115.25 L239.44 118.44 L240.08 121.79 L240.71 125.23 L241.34 128.65 L241.97 131.97 L242.6 135.09 L243.23 137.92 L243.86 140.37 L244.49 142.44 L245.13 144.29 L245.76 146.01 L246.39 147.72 L247.02 149.54 L247.65 151.53 L248.28 153.58 L248.91 155.69 L249.54 157.84 L250.18 160.02 L250.81 162.23 L251.44 164.44 L252.07 166.66 L252.7 168.86 L253.33 171.04 L253.96 173.19 L254.59 175.3 L255.22 177.36 L255.86 179.42 L256.49 181.47 L257.12 183.5 L257.75 185.49 L258.38 187.44 L259.01 189.33 L259.64 191.13 L260.27 192.8 L260.91 194.42 L261.54 196.02 L262.17 197.68 L262.8 199.46 L263.43 201.47 L264.06 203.78 L264.69 206.11 L265.32 208.15 L265.96 209.84 L266.59 211.42 L267.22 212.92 L267.85 214.34 L268.48 215.69 L269.11 216.98 L269.74 218.23 L270.37 219.44 L271 220.63 L271.64 221.8 L272.27 222.96 L272.9 224.13 L273.53 225.31 L274.16 226.5 L274.79 227.69 L275.42 228.87 L276.05 230.04 L276.69 231.19 L277.32 232.32 L277.95 233.42 L278.58 234.48 L279.21 235.49 L279.84 236.46 L280.47 237.37 L281.1 238.22 L281.74 239 L282.37 239.75 L283 240.48 L283.63 241.2 L284.26 241.89 L284.89 242.53 L285.52 243.13 L286.15 243.67 L286.78 244.14 L287.42 244.52 L288.05 244.82 L288.68 245.08 L289.31 245.32 L289.94 245.54 L290.57 245.75 L291.2 245.94 L291.83 246.11 L292.47 246.27 L293.1 246.4 L293.73 246.52 L294.36 246.61 L294.99 246.69 L295.62 246.75 L296.25 246.82 L296.88 246.88 L297.52 246.93 L298.15 246.98 L298.78 247.03 L299.41 247.07 L300.04 247.11 L300.67 247.14 L301.3 247.16 L301.93 247.17 L302.57 247.17" stroke="#0c0cbc" stroke-dasharray="4.6 2.8"/>
</g>
<g stroke="#111" stroke-width="1.5" fill="none">
<rect x="51.0" y="7.6" width="251.3" height="264.79999999999995"/>
<line x1="75.9" y1="272.4" x2="75.9" y2="278.2"/>
<line x1="126.27" y1="272.4" x2="126.27" y2="278.2"/>
<line x1="176.64" y1="272.4" x2="176.64" y2="278.2"/>
<line x1="227.01" y1="272.4" x2="227.01" y2="278.2"/>
<line x1="277.38" y1="272.4" x2="277.38" y2="278.2"/>
<line x1="101.09" y1="272.4" x2="101.09" y2="275.59999999999997"/>
<line x1="151.46" y1="272.4" x2="151.46" y2="275.59999999999997"/>
<line x1="201.83" y1="272.4" x2="201.83" y2="275.59999999999997"/>
<line x1="252.2" y1="272.4" x2="252.2" y2="275.59999999999997"/>
<line x1="45.4" y1="272.5" x2="51.0" y2="272.5"/>
<line x1="45.4" y1="151.9" x2="51.0" y2="151.9"/>
<line x1="45.4" y1="31.3" x2="51.0" y2="31.3"/>
<line x1="47.8" y1="212.2" x2="51.0" y2="212.2"/>
<line x1="47.8" y1="91.6" x2="51.0" y2="91.6"/>
</g>
<g font-family='"Liberation Sans", sans-serif' font-weight="bold" fill="#000" stroke="#000" stroke-width="0.25">
<text x="1.2" y="19" font-size="22.5">a</text>
<text x="41.6" y="276.9" font-size="13" text-anchor="end">0.0</text>
<text x="41.6" y="156.3" font-size="13" text-anchor="end">0.5</text>
<text x="41.6" y="35.7" font-size="13" text-anchor="end">1.0</text>
<text x="75.9" y="291.6" font-size="13" text-anchor="middle">600</text>
<text x="126.27" y="291.6" font-size="13" text-anchor="middle">700</text>
<text x="176.64" y="291.6" font-size="13" text-anchor="middle">800</text>
<text x="227.01" y="291.6" font-size="13" text-anchor="middle">900</text>
<text x="277.38" y="291.6" font-size="13" text-anchor="middle">1000</text>
<text x="115.2" y="312.8" font-size="15" textLength="121.2" lengthAdjust="spacing">Wavelength (nm)</text>
<text transform="translate(12.6 131.85) rotate(-90)" font-size="15" text-anchor="middle" textLength="126.4" lengthAdjust="spacing">PL Intensity (a.u.)</text>
</g>
<g stroke-width="2">
<line x1="52.8" y1="17.9" x2="88.2" y2="17.9" stroke="#000"/>
<line x1="91.9" y1="17.9" x2="113.5" y2="17.9" stroke="#000" stroke-dasharray="4.1 4.3"/>
<line x1="52.8" y1="34.7" x2="88.2" y2="34.7" stroke="#0c0cbc"/>
<line x1="91.9" y1="34.7" x2="113.5" y2="34.7" stroke="#0c0cbc" stroke-dasharray="4.1 4.3"/>
<line x1="52.8" y1="54.9" x2="88.2" y2="54.9" stroke="#1ccc1c"/>
<line x1="91.9" y1="54.9" x2="113.5" y2="54.9" stroke="#1ccc1c" stroke-dasharray="4.1 4.3"/>
<line x1="52.8" y1="74.9" x2="88.2" y2="74.9" stroke="#d81414"/>
<line x1="91.9" y1="74.9" x2="113.5" y2="74.9" stroke="#d81414" stroke-dasharray="4.1 4.3"/>
</g>
<g font-family='"Liberation Sans", sans-serif' font-weight="bold" fill="#000" stroke="#000" stroke-width="0.25" font-size="11">
<text x="115.2" y="22.2">SRO</text>
<text x="115.2" y="39.2">SRO:B<tspan font-size="8.8" dy="3.6">min</tspan></text>
<text x="115.2" y="60.2">SRO:B<tspan font-size="8.8" dy="3.6">med</tspan></text>
<text x="115.2" y="80.4">SRO:B<tspan font-size="8.8" dy="3.6">max</tspan></text>
</g>
<g fill="none" stroke-linejoin="round">
<path d="M427.6 79.19 L428.65 77.51 L429.69 75.72 L430.74 73.76 L431.79 71.59 L432.84 69.35 L433.88 67.17 L434.93 65.21 L435.98 63.46 L437.03 61.8 L438.07 60.24 L439.12 58.8 L440.17 57.5 L441.22 56.3 L442.26 55.18 L443.31 54.15 L444.36 53.23 L445.41 52.44 L446.45 51.69 L447.5 51 L448.55 50.4 L449.59 49.96 L450.64 49.69 L451.69 49.45 L452.74 49.26 L453.78 49.12 L454.83 49.04 L455.88 49.04 L456.93 49.06 L457.97 49.1 L459.02 49.16 L460.07 49.22 L461.12 49.3 L462.16 49.38 L463.21 49.48 L464.26 49.64 L465.31 49.86 L466.35 50.11 L467.4 50.39 L468.45 50.68 L469.5 50.94 L470.54 51.18 L471.59 51.41 L472.64 51.63 L473.68 51.86 L474.73 52.08 L475.78 52.32 L476.83 52.56 L477.87 52.8 L478.92 53.04 L479.97 53.28 L481.02 53.53 L482.06 53.77 L483.11 54.01 L484.16 54.25 L485.21 54.5 L486.25 54.75 L487.3 55 L488.35 55.25 L489.4 55.5 L490.44 55.75 L491.49 55.99 L492.54 56.24 L493.58 56.48 L494.63 56.72 L495.68 56.95 L496.73 57.18 L497.77 57.4 L498.82 57.61 L499.87 57.81 L500.92 58.01 L501.96 58.2 L503.01 58.39 L504.06 58.58 L505.11 58.76 L506.15 58.94 L507.2 59.11 L508.25 59.28 L509.3 59.45 L510.34 59.61 L511.39 59.76 L512.44 59.91 L513.48 60.06 L514.53 60.2 L515.58 60.35 L516.63 60.5 L517.67 60.65 L518.72 60.8 L519.77 60.95 L520.82 61.08 L521.86 61.21 L522.91 61.32 L523.96 61.42 L525.01 61.5 L526.05 61.56 L527.1 61.6 L528.15 61.64 L529.2 61.67 L530.24 61.7 L531.29 61.73 L532.34 61.76 L533.39 61.79 L534.43 61.82 L535.48 61.84 L536.53 61.87 L537.57 61.89 L538.62 61.91 L539.67 61.92 L540.72 61.94 L541.76 61.95 L542.81 61.96 L543.86 61.97 L544.91 61.97 L545.95 61.98 L547 61.98 L548.05 61.97 L549.1 61.96 L550.14 61.95 L551.19 61.93 L552.24 61.9 L553.29 61.87 L554.33 61.84 L555.38 61.81 L556.43 61.77 L557.47 61.73 L558.52 61.68 L559.57 61.64 L560.62 61.6 L561.66 61.55 L562.71 61.5 L563.76 61.46 L564.81 61.41 L565.85 61.37 L566.9 61.32 L567.95 61.28 L569 61.23 L570.04 61.18 L571.09 61.13 L572.14 61.08 L573.19 61.02 L574.23 60.97 L575.28 60.91 L576.33 60.85 L577.37 60.79 L578.42 60.72 L579.47 60.66 L580.52 60.59 L581.56 60.53 L582.61 60.46 L583.66 60.39 L584.71 60.32 L585.75 60.25 L586.8 60.18 L587.85 60.11 L588.9 60.04 L589.94 59.97 L590.99 59.89 L592.04 59.81 L593.09 59.73 L594.13 59.65 L595.18 59.56 L596.23 59.47 L597.28 59.38 L598.32 59.29 L599.37 59.2 L600.42 59.11 L601.46 59.01 L602.51 58.92 L603.56 58.83 L604.61 58.74 L605.65 58.65 L606.7 58.56 L607.75 58.48 L608.8 58.4 L609.84 58.32 L610.89 58.24 L611.94 58.16 L612.99 58.09 L614.03 58.02 L615.08 57.94 L616.13 57.87 L617.18 57.8 L618.22 57.73 L619.27 57.66 L620.32 57.59 L621.36 57.52 L622.41 57.45 L623.46 57.39 L624.51 57.32 L625.55 57.26 L626.6 57.19 L627.65 57.13 L628.7 57.07 L629.74 57 L630.79 56.94 L631.84 56.88 L632.89 56.83 L633.93 56.77 L634.98 56.71 L636.03 56.66" stroke="#333" stroke-width="1.3"/>
<path d="M427.6 197.9 L428.65 197.11 L429.69 196.25 L430.74 195.29 L431.79 194.16 L432.84 192.88 L433.88 191.55 L434.93 190.25 L435.98 189.06 L437.03 188.07 L438.07 187.21 L439.12 186.38 L440.17 185.6 L441.22 184.88 L442.26 184.26 L443.31 183.74 L444.36 183.35 L445.41 183.06 L446.45 182.79 L447.5 182.54 L448.55 182.33 L449.59 182.15 L450.64 182.03 L451.69 181.97 L452.74 181.98 L453.78 182.03 L454.83 182.13 L455.88 182.26 L456.93 182.41 L457.97 182.6 L459.02 182.8 L460.07 183.01 L461.12 183.22 L462.16 183.45 L463.21 183.74 L464.26 184.08 L465.31 184.47 L466.35 184.9 L467.4 185.36 L468.45 185.86 L469.5 186.37 L470.54 186.9 L471.59 187.44 L472.64 187.98 L473.68 188.52 L474.73 189.04 L475.78 189.54 L476.83 190.02 L477.87 190.49 L478.92 190.95 L479.97 191.42 L481.02 191.88 L482.06 192.34 L483.11 192.81 L484.16 193.27 L485.21 193.73 L486.25 194.2 L487.3 194.67 L488.35 195.14 L489.4 195.62 L490.44 196.09 L491.49 196.58 L492.54 197.07 L493.58 197.56 L494.63 198.06 L495.68 198.57 L496.73 199.08 L497.77 199.61 L498.82 200.14 L499.87 200.68 L500.92 201.25 L501.96 201.83 L503.01 202.43 L504.06 203.04 L505.11 203.64 L506.15 204.24 L507.2 204.83 L508.25 205.4 L509.3 205.98 L510.34 206.56 L511.39 207.13 L512.44 207.71 L513.48 208.28 L514.53 208.84 L515.58 209.39 L516.63 209.94 L517.67 210.47 L518.72 210.99 L519.77 211.49 L520.82 211.98 L521.86 212.45 L522.91 212.9 L523.96 213.35 L525.01 213.78 L526.05 214.21 L527.1 214.63 L528.15 215.04 L529.2 215.45 L530.24 215.86 L531.29 216.28 L532.34 216.69 L533.39 217.11 L534.43 217.54 L535.48 217.98 L536.53 218.43 L537.57 218.89 L538.62 219.36 L539.67 219.84 L540.72 220.33 L541.76 220.82 L542.81 221.32 L543.86 221.82 L544.91 222.33 L545.95 222.85 L547 223.37 L548.05 223.9 L549.1 224.42 L550.14 224.96 L551.19 225.49 L552.24 226.03 L553.29 226.57 L554.33 227.11 L555.38 227.66 L556.43 228.2 L557.47 228.75 L558.52 229.3 L559.57 229.84 L560.62 230.39 L561.66 230.93 L562.71 231.48 L563.76 232.02 L564.81 232.56 L565.85 233.1 L566.9 233.64 L567.95 234.17 L569 234.7 L570.04 235.23 L571.09 235.75 L572.14 236.27 L573.19 236.78 L574.23 237.29 L575.28 237.79 L576.33 238.29 L577.37 238.78 L578.42 239.28 L579.47 239.77 L580.52 240.26 L581.56 240.75 L582.61 241.24 L583.66 241.73 L584.71 242.22 L585.75 242.71 L586.8 243.19 L587.85 243.68 L588.9 244.16 L589.94 244.64 L590.99 245.12 L592.04 245.6 L593.09 246.07 L594.13 246.55 L595.18 247.02 L596.23 247.49 L597.28 247.96 L598.32 248.43 L599.37 248.9 L600.42 249.36 L601.46 249.83 L602.51 250.29 L603.56 250.75 L604.61 251.2 L605.65 251.66 L606.7 252.11 L607.75 252.56 L608.8 253.01 L609.84 253.45 L610.89 253.9 L611.94 254.34 L612.99 254.78 L614.03 255.22 L615.08 255.65 L616.13 256.08 L617.18 256.51 L618.22 256.94 L619.27 257.36 L620.32 257.78 L621.36 258.2 L622.41 258.62 L623.46 259.03 L624.51 259.45 L625.55 259.86 L626.6 260.26 L627.65 260.67 L628.7 261.07 L629.74 261.47 L630.79 261.87 L631.84 262.27 L632.89 262.67 L633.93 263.06 L634.98 263.45 L636.03 263.84" stroke="#1c1c8c" stroke-width="1.3"/>
<path d="M427.6 197.9 L428.65 197.05 L429.69 195.74 L430.74 194.07 L431.79 191.45 L432.84 188.13 L433.88 184.73 L434.93 181.89 L435.98 179.84 L437.03 177.99 L438.07 176.32 L439.12 174.85 L440.17 173.6 L441.22 172.6 L442.26 171.69 L443.31 170.84 L444.36 170.07 L445.41 169.4 L446.45 168.84 L447.5 168.42 L448.55 168.15 L449.59 167.93 L450.64 167.73 L451.69 167.56 L452.74 167.43 L453.78 167.34 L454.83 167.31 L455.88 167.34 L456.93 167.46 L457.97 167.65 L459.02 167.89 L460.07 168.16 L461.12 168.47 L462.16 168.79 L463.21 169.11 L464.26 169.44 L465.31 169.81 L466.35 170.24 L467.4 170.71 L468.45 171.21 L469.5 171.75 L470.54 172.31 L471.59 172.89 L472.64 173.48 L473.68 174.09 L474.73 174.7 L475.78 175.31 L476.83 175.92 L477.87 176.54 L478.92 177.17 L479.97 177.83 L481.02 178.49 L482.06 179.18 L483.11 179.88 L484.16 180.59 L485.21 181.32 L486.25 182.06 L487.3 182.81 L488.35 183.57 L489.4 184.34 L490.44 185.13 L491.49 185.92 L492.54 186.74 L493.58 187.63 L494.63 188.56 L495.68 189.52 L496.73 190.49 L497.77 191.42 L498.82 192.31 L499.87 193.14 L500.92 193.87 L501.96 194.5 L503.01 195.06 L504.06 195.57 L505.11 196.07 L506.15 196.58 L507.2 197.12 L508.25 197.72 L509.3 198.36 L510.34 199.04 L511.39 199.73 L512.44 200.45 L513.48 201.17 L514.53 201.9 L515.58 202.62 L516.63 203.32 L517.67 204 L518.72 204.65 L519.77 205.27 L520.82 205.84 L521.86 206.4 L522.91 206.94 L523.96 207.46 L525.01 207.96 L526.05 208.46 L527.1 208.95 L528.15 209.43 L529.2 209.9 L530.24 210.37 L531.29 210.85 L532.34 211.32 L533.39 211.8 L534.43 212.28 L535.48 212.77 L536.53 213.27 L537.57 213.79 L538.62 214.31 L539.67 214.85 L540.72 215.38 L541.76 215.92 L542.81 216.47 L543.86 217.01 L544.91 217.57 L545.95 218.12 L547 218.68 L548.05 219.24 L549.1 219.8 L550.14 220.37 L551.19 220.93 L552.24 221.5 L553.29 222.07 L554.33 222.65 L555.38 223.22 L556.43 223.79 L557.47 224.37 L558.52 224.94 L559.57 225.52 L560.62 226.09 L561.66 226.66 L562.71 227.24 L563.76 227.81 L564.81 228.38 L565.85 228.95 L566.9 229.52 L567.95 230.08 L569 230.65 L570.04 231.21 L571.09 231.76 L572.14 232.32 L573.19 232.87 L574.23 233.42 L575.28 233.96 L576.33 234.5 L577.37 235.04 L578.42 235.58 L579.47 236.12 L580.52 236.66 L581.56 237.2 L582.61 237.74 L583.66 238.28 L584.71 238.82 L585.75 239.35 L586.8 239.89 L587.85 240.42 L588.9 240.95 L589.94 241.49 L590.99 242.02 L592.04 242.55 L593.09 243.08 L594.13 243.6 L595.18 244.13 L596.23 244.66 L597.28 245.18 L598.32 245.7 L599.37 246.22 L600.42 246.74 L601.46 247.26 L602.51 247.77 L603.56 248.28 L604.61 248.8 L605.65 249.3 L606.7 249.81 L607.75 250.32 L608.8 250.82 L609.84 251.32 L610.89 251.82 L611.94 252.32 L612.99 252.81 L614.03 253.3 L615.08 253.79 L616.13 254.28 L617.18 254.76 L618.22 255.24 L619.27 255.72 L620.32 256.2 L621.36 256.67 L622.41 257.15 L623.46 257.62 L624.51 258.09 L625.55 258.55 L626.6 259.02 L627.65 259.48 L628.7 259.94 L629.74 260.4 L630.79 260.85 L631.84 261.31 L632.89 261.76 L633.93 262.21 L634.98 262.66 L636.03 263.11" stroke="#f08c20" stroke-width="1.25"/>
</g>
<circle cx="428.23" cy="78.41" r="4.3" fill="url(#gg)"/>
<circle cx="448.44" cy="37.65" r="4.3" fill="url(#gg)"/>
<circle cx="501.66" cy="65.86" r="4.3" fill="url(#gg)"/>
<circle cx="635.71" cy="56.67" r="4.3" fill="url(#gg)"/>
<circle cx="428.23" cy="197.9" r="4.3" fill="url(#gb)"/>
<circle cx="448.44" cy="173.59" r="4.3" fill="url(#gb)"/>
<circle cx="501.66" cy="205.38" r="4.3" fill="url(#gb)"/>
<circle cx="635.71" cy="263.72" r="4.3" fill="url(#gb)"/>
<circle cx="428.23" cy="197.9" r="4.3" fill="url(#go)"/>
<circle cx="448.44" cy="151.82" r="4.3" fill="url(#go)"/>
<circle cx="501.66" cy="199.77" r="4.3" fill="url(#go)"/>
<circle cx="635.71" cy="262.98" r="4.3" fill="url(#go)"/>
<g stroke="#111" stroke-width="1.5" fill="none">
<path d="M412.4 138.3 L412.4 7.5 L664.4 7.5 L664.4 138.3"/>
<path d="M412.4 142.6 L412.4 272.7 L664.4 272.7 L664.4 142.6"/>
<line x1="406.79999999999995" y1="138.4" x2="418.0" y2="134.89999999999998"/>
<line x1="406.79999999999995" y1="144.3" x2="418.0" y2="139.6"/>
<line x1="658.8" y1="138.4" x2="670.0" y2="134.89999999999998"/>
<line x1="658.8" y1="144.3" x2="670.0" y2="139.6"/>
<line x1="406.79999999999995" y1="136.9" x2="412.4" y2="136.9"/>
<line x1="406.79999999999995" y1="72.2" x2="412.4" y2="72.2"/>
<line x1="406.79999999999995" y1="7.5" x2="412.4" y2="7.5"/>
<line x1="409.2" y1="104.55" x2="412.4" y2="104.55"/>
<line x1="409.2" y1="39.85" x2="412.4" y2="39.85"/>
<line x1="406.79999999999995" y1="272.7" x2="412.4" y2="272.7"/>
<line x1="406.79999999999995" y1="235.3" x2="412.4" y2="235.3"/>
<line x1="406.79999999999995" y1="197.9" x2="412.4" y2="197.9"/>
<line x1="406.79999999999995" y1="160.5" x2="412.4" y2="160.5"/>
<line x1="409.2" y1="254" x2="412.4" y2="254"/>
<line x1="409.2" y1="216.6" x2="412.4" y2="216.6"/>
<line x1="409.2" y1="179.2" x2="412.4" y2="179.2"/>
<line x1="427.6" y1="272.7" x2="427.6" y2="278.09999999999997"/>
<line x1="506.55" y1="272.7" x2="506.55" y2="278.09999999999997"/>
<line x1="585.5" y1="272.7" x2="585.5" y2="278.09999999999997"/>
<line x1="664.45" y1="272.7" x2="664.45" y2="278.09999999999997"/>
<line x1="467.08" y1="272.7" x2="467.08" y2="275.9"/>
<line x1="546.03" y1="272.7" x2="546.03" y2="275.9"/>
<line x1="624.98" y1="272.7" x2="624.98" y2="275.9"/>
</g>
<rect x="501.6" y="109.7" width="154" height="61" fill="#fff" stroke="#505050" stroke-width="1.1"/>
<line x1="503.4" y1="118.8" x2="534.4" y2="118.8" stroke="#333" stroke-width="1.4"/>
<circle cx="518.9" cy="118.8" r="4.3" fill="url(#gg)"/>
<line x1="503.4" y1="139.4" x2="534.4" y2="139.4" stroke="#1c1c8c" stroke-width="1.4"/>
<circle cx="518.9" cy="139.4" r="4.3" fill="url(#gb)"/>
<line x1="503.4" y1="159.1" x2="534.4" y2="159.1" stroke="#f08c20" stroke-width="1.4"/>
<circle cx="518.9" cy="159.1" r="4.3" fill="url(#go)"/>
<g font-family='"Liberation Sans", sans-serif' font-weight="bold" fill="#000" stroke="#000" stroke-width="0.25" font-size="11.2">
<text x="537.6" y="123">I<tspan font-size="8.8" dy="3.6">PL</tspan><tspan dy="-3.6"> increase by H</tspan><tspan font-size="8.8" dy="3.6">2</tspan></text>
<text x="537.6" y="143.3">before H<tspan font-size="8.8" dy="3.6">2</tspan><tspan dy="-3.6">-passivation</tspan></text>
<text x="537.6" y="163.4">after H<tspan font-size="8.8" dy="3.6">2</tspan><tspan dy="-3.6">-passivation</tspan></text>
</g>
<g font-family='"Liberation Sans", sans-serif' font-weight="bold" fill="#000" stroke="#000" stroke-width="0.25">
<text x="333" y="22" font-size="22">b</text>
<text x="403" y="141.3" font-size="13" text-anchor="end">100</text>
<text x="403" y="76.6" font-size="13" text-anchor="end">150</text>
<text x="403" y="11.9" font-size="13" text-anchor="end">200</text>
<text x="403" y="277.1" font-size="13" text-anchor="end">0.0</text>
<text x="403" y="239.7" font-size="13" text-anchor="end">0.5</text>
<text x="403" y="202.3" font-size="13" text-anchor="end">1.0</text>
<text x="403" y="164.9" font-size="13" text-anchor="end">1.5</text>
<text x="427.6" y="291.6" font-size="13" text-anchor="middle">0.0</text>
<text x="506.55" y="291.6" font-size="13" text-anchor="middle">0.5</text>
<text x="585.5" y="291.6" font-size="13" text-anchor="middle">1.0</text>
<text x="664.45" y="291.6" font-size="13" text-anchor="middle">1.5</text>
<text x="458.2" y="312.3" font-size="15">B-concentration (at</text>
<text transform="translate(599.6 312.3) scale(0.8 1)" font-size="15">%</text>
<text x="612.9" y="312.3" font-size="15">)</text>
<text transform="translate(368 216) rotate(-90)" font-size="15" text-anchor="middle">Rel. PL Intensity</text>
<text transform="translate(367.3 136.6) rotate(-90)" font-size="15.3">H<tspan font-size="9.6" dy="4">2</tspan><tspan dy="-4">-I</tspan><tspan font-size="9.6" dy="4">PL</tspan><tspan dy="-4"> Increase (</tspan></text>
<text transform="translate(367.6 21.6) rotate(-90) scale(0.85 1)" font-size="15.3">%</text>
<text transform="translate(367.3 7.5) rotate(-90)" font-size="15.3">)</text>
</g>
</svg>
</body></html>
